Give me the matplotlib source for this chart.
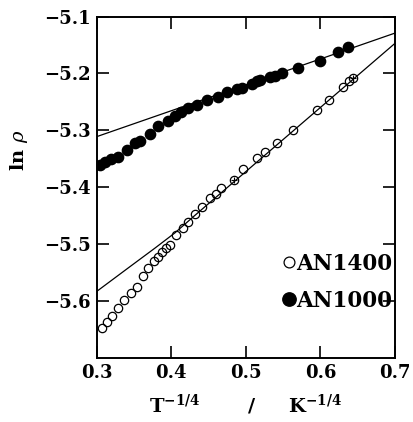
import matplotlib
matplotlib.use("Agg")
import matplotlib.pyplot as plt

# AN1000 (filled circles)
x_an1000 = [0.3044, 0.3111, 0.3192, 0.3286, 0.3406, 0.3513, 0.3580, 0.3714, 0.3822,
            0.3956, 0.4050, 0.4130, 0.4224, 0.4344, 0.4478, 0.4626, 0.4746, 0.4881,
            0.4948, 0.5082, 0.5149, 0.5190, 0.5324, 0.5391, 0.5485, 0.5699, 0.5993,
            0.6235, 0.6369]
y_an1000 = [-5.360, -5.356, -5.351, -5.346, -5.334, -5.323, -5.318, -5.306, -5.293,
            -5.284, -5.275, -5.268, -5.261, -5.256, -5.247, -5.241, -5.233, -5.228,
            -5.225, -5.218, -5.214, -5.212, -5.207, -5.204, -5.199, -5.191, -5.178,
            -5.162, -5.154]

# AN1400 (open circles)
x_an1400 = [0.3071, 0.3138, 0.3205, 0.3286, 0.3366, 0.3460, 0.3540, 0.3621, 0.3688,
            0.3768, 0.3822, 0.3876, 0.3929, 0.3983, 0.4064, 0.4157, 0.4224, 0.4318,
            0.4412, 0.4519, 0.4599, 0.4666, 0.4841, 0.4961, 0.5149, 0.5256, 0.5417,
            0.5631, 0.5953, 0.6114, 0.6302, 0.6382, 0.6436]
y_an1400 = [-5.6474, -5.6369, -5.6263, -5.6122, -5.5981, -5.5857, -5.5751, -5.5557,
            -5.5416, -5.5293, -5.5222, -5.5134, -5.5063, -5.5010, -5.4834, -5.4711,
            -5.4605, -5.4478, -5.4340, -5.4195, -5.4116, -5.4011, -5.3870, -5.3675,
            -5.3477, -5.3388, -5.3229, -5.3000, -5.2647, -5.2470, -5.2242, -5.2136,
            -5.2082]
# overlapping (crossed) AN1400 points
x_cross = [0.4841, 0.6436]
y_cross = [-5.3870, -5.2082]

# fitted lines
x_fit1000 = [0.3, 0.7]
y_fit1000 = [-5.311, -5.129]
x_fit1400 = [0.300, 0.342, 0.378, 0.405, 0.432, 0.700]
y_fit1400 = [-5.583, -5.542, -5.507, -5.480, -5.449, -5.147]

xticks = [0.3, 0.4, 0.5, 0.6, 0.7]
yticks = [-5.1, -5.2, -5.3, -5.4, -5.5, -5.6]

plt.rcParams['font.family'] = ['DejaVu Serif']
plt.rcParams['mathtext.fontset'] = 'dejavuserif'

fig = plt.figure(figsize=(4.14, 4.22), dpi=100)
ax = fig.add_axes([0.2336, 0.1517, 0.7205, 0.809])

ax.plot(x_fit1000, y_fit1000, color='black', lw=0.9, zorder=1)
ax.plot(x_fit1400, y_fit1400, color='black', lw=0.9, zorder=1)

ax.plot(x_an1400, y_an1400, linestyle='none', marker='o', ms=6.0, mfc='none',
        mec='black', mew=0.9, label='AN1400', zorder=2)
ax.plot(x_cross, y_cross, linestyle='none', marker='+', ms=5.0, mec='black',
        mew=0.8, zorder=3)
ax.plot(x_an1000, y_an1000, linestyle='none', marker='o', ms=7.4, mfc='black',
        mec='black', label='AN1000', zorder=2)

ax.set_xlim(0.3, 0.7)
ax.set_ylim(-5.7, -5.1)
ax.set_xticks(xticks)
ax.set_yticks(yticks)
ax.set_xticklabels(['%.1f' % v for v in xticks])
ax.set_yticklabels(['\u2212%.1f' % abs(v) for v in yticks])
ax.tick_params(direction='in', length=8.5, width=1.2, top=True, right=True,
               labelsize=13, pad=4)
for lab in ax.get_xticklabels() + ax.get_yticklabels():
    lab.set_fontweight('bold')
for s in ax.spines.values():
    s.set_linewidth(1.4)

ax.set_xlabel(r'$\mathbf{T}^{\mathbf{-1/4}}$       /     $\mathbf{K}^{\mathbf{-1/4}}$',
              fontsize=14, fontweight='bold', labelpad=8)
ax.set_ylabel(r'ln $\rho$', fontsize=14, fontweight='bold')
ax.yaxis.set_label_coords(-0.225, 0.61)

leg = ax.legend(loc='lower right', bbox_to_anchor=(1.02, 0.11), frameon=False,
                handlelength=0.6, handletextpad=0.05, borderaxespad=0,
                labelspacing=0.7, markerscale=1.3,
                prop={'weight': 'bold', 'size': 15.5})

fig.savefig('out.png', dpi=100)
